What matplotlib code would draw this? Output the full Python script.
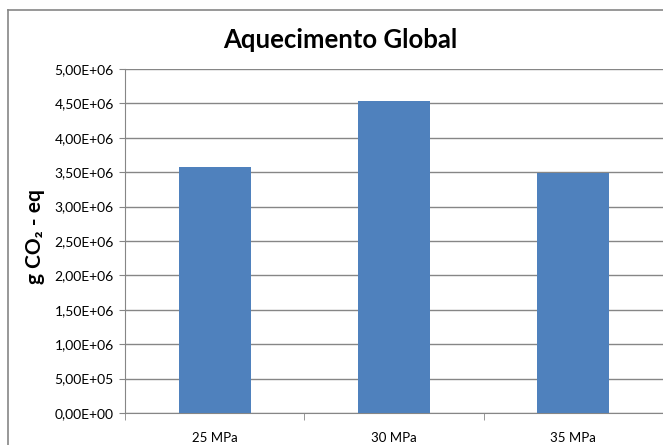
import matplotlib.pyplot as plt
from matplotlib.lines import Line2D
from matplotlib.ticker import FuncFormatter, MultipleLocator, FixedLocator

plt.rcParams['font.family'] = ['Lato', 'DejaVu Sans']

categories = ['25 MPa', '30 MPa', '35 MPa']
values = [3.57e6, 4.535e6, 3.49e6]
title = 'Aquecimento Global'
ylabel = 'g CO\u2082 - eq'

bar_color = '#4F81BD'
grid_color = '#868686'

fig = plt.figure(figsize=(6.63, 4.45), dpi=100)
ax = fig.add_axes([125 / 663, 32 / 445, 538 / 663, 344 / 445])

x = range(len(categories))
ax.bar(x, values, width=0.4, color=bar_color, zorder=3)

ax.set_xlim(-0.5, len(categories) - 0.5)
ax.set_ylim(0, 5e6)
ax.yaxis.set_major_locator(MultipleLocator(5e5))
ax.yaxis.set_major_formatter(FuncFormatter(lambda v, p: f'{v:.2E}'.replace('.', ',')))
ax.grid(axis='y', color=grid_color, linewidth=1.0, zorder=0)

ax.set_xticks(list(x))
ax.set_xticklabels(categories)
ax.xaxis.set_minor_locator(FixedLocator([i - 0.5 for i in range(len(categories) + 1)]))
ax.tick_params(axis='x', which='major', length=0, pad=14, labelsize=9.5, colors='black')
ax.tick_params(axis='x', which='minor', length=5, color=grid_color, direction='out')
ax.tick_params(axis='y', length=4, color=grid_color, labelsize=10, pad=4)

for side in ['top', 'right']:
    ax.spines[side].set_visible(False)
ax.spines['left'].set_color(grid_color)
ax.spines['bottom'].set_color(grid_color)

fig.text(340 / 663, 1 - 40 / 445, title, ha='center', va='center',
         fontsize=18.5, fontweight='bold')
fig.text(35 / 663, 1 - 237 / 445, ylabel, ha='center', va='center',
         rotation=90, fontsize=15, fontweight='bold')

# chart frame (left and top edges)
fig.add_artist(Line2D([8 / 663, 8 / 663], [0, 1 - 10 / 445], color=grid_color, lw=1.2))
fig.add_artist(Line2D([8 / 663, 1], [1 - 10 / 445, 1 - 10 / 445], color=grid_color, lw=1.2))

fig.savefig('out.png', dpi=100)
